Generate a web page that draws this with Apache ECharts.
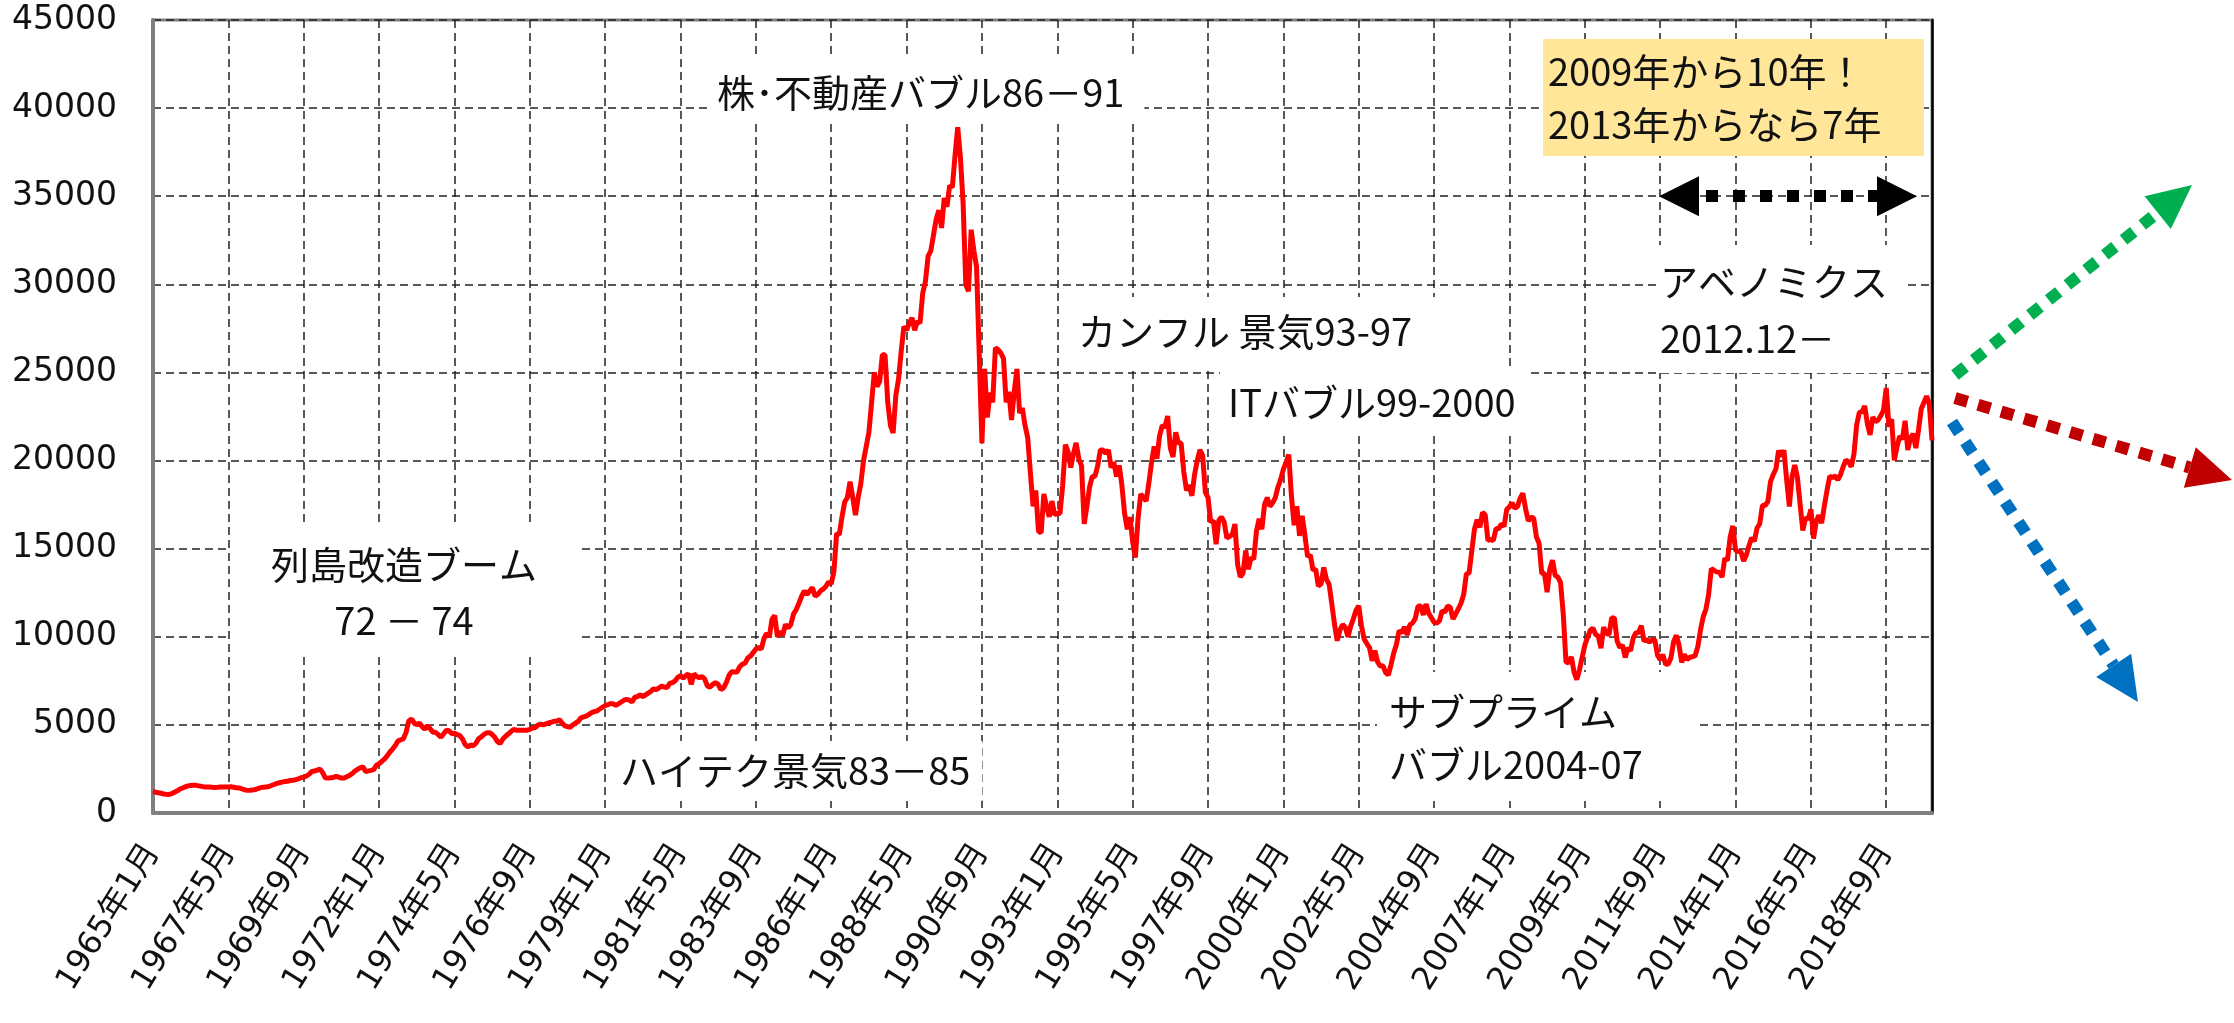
<!DOCTYPE html>
<html>
  <head>
    <meta charset="utf-8" />
    <script src="https://cdn.jsdelivr.net/npm/echarts@6/dist/echarts.min.js"></script>
    <style>body { margin: 0; background: #fff; }</style>
  </head>
  <body>
    <div id="main" style="width: 2234px; height: 1023px"></div>

    <script type="text/javascript">
      // 日経平均 月末終値 (円), 1965年1月 - 2020年2月
      var nikkei1960s = [
        1220, 1180, 1150, 1120, 1080, 1060, 1050, 1100, 1180, 1260, 1360, 1418,
        1480, 1540, 1560, 1580, 1570, 1540, 1510, 1480, 1470, 1470, 1460, 1452,
        1460, 1470, 1480, 1470, 1480, 1490, 1460, 1430, 1420, 1370, 1320, 1284,
        1290, 1300, 1330, 1390, 1440, 1460, 1470, 1500, 1560, 1620, 1680, 1715,
        1750, 1790, 1800, 1850, 1860, 1890, 1940, 2000, 2030, 2100, 2200, 2358
      ];
      var nikkei1970s = [
        2380, 2430, 2500, 2300, 2000, 1980, 2000, 2020, 2080, 2030, 1980, 1987,
        2060, 2130, 2230, 2380, 2480, 2560, 2620, 2350, 2390, 2420, 2460, 2714,
        2790, 2930, 3060, 3240, 3450, 3630, 3820, 4080, 4150, 4200, 4560, 5208,
        5340, 5120, 5000, 5100, 4900, 4750, 4960, 4780, 4580, 4580, 4450, 4307,
        4500, 4700, 4670, 4500, 4530, 4450, 4390, 4200, 3880, 3750, 3860, 3817,
        3960, 4220, 4320, 4460, 4550, 4560, 4460, 4300, 4050, 3950, 4200, 4359,
        4480, 4620, 4750, 4700, 4700, 4690, 4700, 4700, 4750, 4820, 4850, 4990,
        5050, 5000, 5060, 5110, 5150, 5200, 5200, 5300, 5100, 4950, 4900, 4866,
        5000, 5100, 5200, 5400, 5450, 5500, 5600, 5700, 5750, 5800, 5900, 6001,
        6100, 6150, 6200, 6200, 6100, 6200, 6300, 6400, 6450, 6400, 6300, 6569
      ];
      var nikkei1980s = [
        6600, 6700, 6600, 6700, 6800, 6900, 7050, 7000, 7100, 7200, 7150, 7116,
        7350, 7400, 7500, 7700, 7800, 7650, 7800, 7900, 7300, 7900, 7750, 7681,
        7750, 7600, 7200, 7150, 7300, 7400, 7300, 7000, 7100, 7400, 7800, 8016,
        8000, 8000, 8300, 8450, 8500, 8800, 8900, 9100, 9300, 9400, 9300, 9893,
        10200, 10000, 11000, 11200, 10000, 10300, 10100, 10700, 10500, 10700, 11300, 11542,
        11900, 12300, 12600, 12400, 12600, 12800, 12300, 12400, 12600, 12700, 12850, 13113,
        13000, 13700, 15860, 15800, 16800, 17650, 17900, 18800, 17900, 16900, 17900, 18701,
        20000, 20800, 21600, 23300, 25000, 24200, 24500, 26000, 26000, 23300, 22000, 21564,
        23700, 24600, 26200, 27600, 27400, 27800, 28100, 27400, 27900, 27800, 29500, 30159,
        31600, 31900, 32800, 33700, 34200, 33200, 34900, 34400, 35600, 35500, 37300, 38916
      ];
      var nikkei1990s = [
        37200, 34600, 29980, 29600, 33100, 31900, 31000, 25980, 20984, 25200, 22450, 23849,
        23300, 26400, 26300, 26100, 25800, 23300, 23900, 22300, 23900, 25200, 22700, 22984,
        22000, 21300, 19300, 17400, 18300, 16000, 15900, 18100, 17400, 16800, 17700, 16925,
        17000, 17000, 18600, 20900, 20500, 19600, 20400, 21000, 20100, 19700, 16400, 17417,
        18500, 19100, 19100, 19700, 20600, 20600, 20400, 20600, 19600, 19900, 19100, 19723,
        18600, 17000, 16100, 16800, 15400, 14500, 16700, 18100, 17900, 17700, 18700, 19868,
        20800, 20100, 21400, 22000, 21900, 22530, 20700, 20200, 21600, 21000, 21000, 19361,
        18300, 18600, 18000, 19200, 20000, 20600, 20300, 18200, 17900, 16500, 16600, 15259,
        16600, 16800, 16500, 15600, 15700, 15800, 16400, 14100, 13400, 13600, 14900, 13842,
        14500, 14400, 16000, 16700, 16100, 17500, 17900, 17400, 17600, 17900, 18500, 18934
      ];
      var nikkei2000s = [
        19500, 19900, 20337, 17970, 16330, 17410, 15730, 16860, 15750, 14540, 14650, 13786,
        13840, 12880, 12990, 13930, 13260, 12970, 11860, 10710, 9775, 10370, 10700, 10543,
        9998, 10590, 11025, 11500, 11760, 10620, 9880, 9620, 9380, 8640, 9215, 8579,
        8340, 8360, 7970, 7830, 8420, 9080, 9560, 10340, 10220, 10560, 10100, 10677,
        10780, 11040, 11720, 11760, 11240, 11860, 11330, 11080, 10820, 10770, 10900, 11489,
        11390, 11740, 11670, 11010, 11280, 11580, 11900, 12410, 13570, 13610, 14870, 16111,
        16650, 16210, 17060, 16910, 15470, 15510, 15460, 16140, 16130, 16400, 16270, 17226,
        17380, 17600, 17290, 17400, 17880, 18138, 17250, 16570, 16790, 16740, 15680, 15308,
        13590, 13600, 12530, 13850, 14340, 13480, 13380, 13070, 11260, 8577, 8512, 8860,
        7994, 7568, 8110, 8828, 9523, 9958, 10357, 10493, 10133, 10035, 9346, 10546
      ];
      var nikkei2010s = [
        10198, 10126, 11090, 11057, 9769, 9383, 9537, 8824, 9369, 9202, 9937, 10229,
        10238, 10624, 9755, 9850, 9694, 9816, 9833, 8955, 8700, 8988, 8434, 8455,
        8803, 9723, 10084, 9521, 8543, 9007, 8695, 8840, 8870, 8928, 9446, 10395,
        11139, 11559, 12398, 13861, 13775, 13677, 13668, 13389, 14456, 14328, 15662, 16291,
        14915, 14841, 14828, 14304, 14632, 15162, 15621, 15425, 16174, 16414, 17460, 17451,
        17674, 18798, 19207, 19520, 20563, 20236, 20585, 18890, 17388, 19083, 19747, 19034,
        17518, 16027, 16759, 16666, 17235, 15576, 16569, 16887, 16450, 17425, 18308, 19114,
        19041, 19119, 18909, 19197, 19651, 20033, 19925, 19646, 20356, 22012, 22725, 22765,
        23098, 22068, 21454, 22468, 22202, 22305, 22554, 22865, 24120, 21920, 22351, 20015,
        20773, 21385, 21206, 22259, 20601, 21276, 21522, 20704, 21756, 22927, 23294, 23657
      ];
      var nikkei2020s = [23205, 21143];

      var values = nikkei1960s.concat(nikkei1970s, nikkei1980s, nikkei1990s,
        nikkei2000s, nikkei2010s, nikkei2020s);

      // category labels 1965年1月 ...
      var months = [];
      for (var y = 1965; y <= 2020; y++) {
        for (var m = 1; m <= 12; m++) {
          if (months.length < values.length) months.push(y + "年" + m + "月");
        }
      }

      var jp = '"Noto Sans CJK JP"';
      var gridLine = { color: "#222", type: [8, 5], width: 1.5 };

      // white-boxed notes
      function note(text, x, y, pad, lh, align) {
        return {
          type: "text", x: x, y: y, z: 1,
          style: {
            text: text, font: "38px " + jp, fill: "#111",
            backgroundColor: "#fff", padding: pad, lineHeight: lh,
            align: align || "left", verticalAlign: "top"
          }
        };
      }

      // thick dotted arrows on the right
      function arrow(x1, y1, x2, y2, color) {
        var dx = x2 - x1, dy = y2 - y1;
        var len = Math.sqrt(dx * dx + dy * dy);
        var ux = dx / len, uy = dy / len;
        var hl = 44, hw = 21;
        var bx = x2 - ux * hl, by = y2 - uy * hl;
        return [
          { type: "line", z: 5, shape: { x1: x1, y1: y1, x2: bx, y2: by },
            style: { stroke: color, lineWidth: 12, lineDash: [13, 11] } },
          { type: "polygon", z: 5,
            shape: { points: [[x2, y2], [bx - uy * hw, by + ux * hw], [bx + uy * hw, by - ux * hw]] },
            style: { fill: color } }
        ];
      }

      var graphics = [
        note("株･不動産バブル86－91", 710, 57, [16, 20, 6, 7], 40),
        note("カンフル 景気93-97", 1068, 297, [15, 24, 18, 10], 40),
        note("ITバブル99-2000", 1220, 368, [15, 13, 12, 8], 40),
        note("列島改造ブーム\n72 － 74", 404, 524, [13, 40, 8, 40], 56, "center"),
        note("ハイテク景気83－85", 608, 741, [10, 12, 10, 12], 40),
        note("サブプライム\nバブル2004-07", 1377, 672, [13, 55, 10, 12], 53),
        note("アベノミクス\n2012.12－", 1657, 245, [8, 18, 6, 3], 57),
        { type: "rect", z: 1, shape: { x: 1543, y: 39, width: 381, height: 117 },
          style: { fill: "#FFE699" } },
        { type: "text", x: 1548, y: 45, z: 1,
          style: { text: "2009年から10年！\n2013年からなら7年", font: "38px " + jp,
            fill: "#111", lineHeight: 53, verticalAlign: "top" } }
      ].concat(
        arrow(1955, 375, 2192, 185, "#00B050"),
        arrow(1955, 398, 2232, 480, "#C00000"),
        arrow(1952, 422, 2138, 702, "#0070C0")
      );

      var myChart = echarts.init(document.getElementById("main"));

      var option = {
        animation: false,
        grid: {
          left: 153, right: 302, top: 20, bottom: 210,
          show: true, borderColor: "#808080", borderWidth: 3
        },
        xAxis: {
          type: "category",
          data: months,
          boundaryGap: false,
          axisLine: { lineStyle: { color: "#808080", width: 4 } },
          axisTick: { show: false },
          axisLabel: {
            interval: 27, rotate: 58, margin: 34,
            fontSize: 32, color: "#111",
            fontFamily: '"DejaVu Sans", ' + jp
          },
          splitLine: { show: true, interval: 27, lineStyle: gridLine }
        },
        yAxis: [
          {
            type: "value", min: 0, max: 45000, interval: 5000,
            axisLine: { show: true, lineStyle: { color: "#808080", width: 4 } },
            axisTick: { show: false },
            axisLabel: {
              fontSize: 33, color: "#111", margin: 36, fontFamily: '"DejaVu Sans"',
              formatter: function (v) { return String(v); }
            },
            splitLine: { show: true, lineStyle: gridLine }
          },
          {
            type: "value", min: 0, max: 45000, interval: 5000, position: "right",
            axisLine: { show: true, lineStyle: { color: "#000", width: 2.5 } },
            axisTick: { show: false },
            axisLabel: { show: false },
            splitLine: { show: false }
          }
        ],
        series: [
          {
            type: "line",
            data: values,
            showSymbol: false,
            symbol: "none",
            z: 3,
            lineStyle: { color: "#ff0000", width: 5 },
            markLine: {
              silent: true,
              symbol: ["triangle", "triangle"],
              symbolSize: 40,
              label: { show: false },
              lineStyle: { color: "#000", width: 12, type: [12, 15] },
              data: [[
                { coord: [months[567], 35000] },
                { coord: [months[648], 35000] }
              ]]
            }
          }
        ],
        graphic: graphics
      };

      myChart.setOption(option);
    </script>
  </body>
</html>
